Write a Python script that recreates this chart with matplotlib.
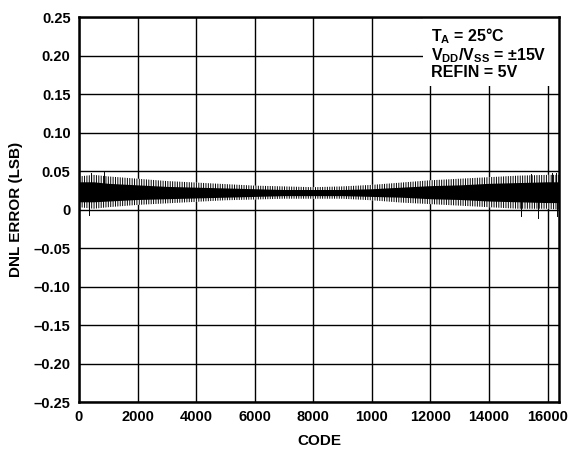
import matplotlib
matplotlib.use("Agg")
import matplotlib.pyplot as plt
from matplotlib.patches import Rectangle

plt.rcParams['font.family'] = ['Liberation Sans', 'DejaVu Sans']
plt.rcParams['font.weight'] = 'bold'
plt.rcParams['mathtext.fontset'] = 'custom'
plt.rcParams['mathtext.rm'] = 'Liberation Sans:bold'
plt.rcParams['mathtext.default'] = 'rm'
plt.rcParams['hatch.linewidth'] = 0.7

# envelope of the DNL trace
codes = [0, 500, 1000, 2000, 3000, 4000, 5000, 6000, 7000, 8000, 9000,
         10000, 11000, 12000, 13000, 14000, 15000, 16000, 16383]
core_hi = [0.036, 0.036, 0.034, 0.032, 0.030, 0.029, 0.028, 0.027, 0.026, 0.026,
           0.026, 0.027, 0.029, 0.031, 0.032, 0.034, 0.035, 0.036, 0.036]
core_lo = [0.010, 0.010, 0.011, 0.013, 0.014, 0.015, 0.016, 0.017, 0.018, 0.018,
           0.018, 0.017, 0.016, 0.014, 0.013, 0.011, 0.010, 0.009, 0.009]
outer_hi = [0.043, 0.045, 0.043, 0.040, 0.037, 0.035, 0.033, 0.031, 0.030, 0.029,
            0.030, 0.032, 0.035, 0.038, 0.040, 0.042, 0.044, 0.045, 0.045]
outer_lo = [0.003, 0.001, 0.003, 0.006, 0.008, 0.010, 0.012, 0.013, 0.014, 0.014,
            0.014, 0.012, 0.009, 0.007, 0.005, 0.003, 0.001, 0.001, 0.000]

# a few single spikes that stick out of the band
spike_codes = [330, 400, 855, 15080, 15420, 15660, 16160, 16300, 16330]
spike_vals = [-0.007, 0.048, 0.049, -0.009, 0.046, -0.011, 0.048, 0.048, -0.009]

xticks = [0, 2000, 4000, 6000, 8000, 10000, 12000, 14000, 16000]
xlabels = ['0', '2000', '4000', '6000', '8000', '1000', '12000', '14000', '16000']
yticks = [0.25, 0.20, 0.15, 0.10, 0.05, 0, -0.05, -0.10, -0.15, -0.20, -0.25]
ylabels = ['0.25', '0.20', '0.15', '0.10', '0.05', '0', '\u20130.05', '\u20130.10',
           '\u20130.15', '\u20130.20', '\u20130.25']

fig = plt.figure(figsize=(5.68, 4.51), dpi=100)
ax = fig.add_axes([0.139, 0.1086, 0.845, 0.8537])

# outer band: streaky texture, inner band: solid black
ax.fill_between(codes, outer_lo, outer_hi, facecolor='white', edgecolor='black',
                hatch='|||||||', lw=0, zorder=2)
ax.fill_between(codes, core_lo, core_hi, color='black', lw=0, zorder=2.1)
for c, v in zip(spike_codes, spike_vals):
    base = 0.03 if v > 0.02 else 0.012
    ax.plot([c, c], [base, v], color='black', lw=0.7, zorder=2.2)

ax.set_xlim(0, 16384)
ax.set_ylim(-0.25, 0.25)
ax.set_xticks(xticks)
ax.set_xticklabels(xlabels)
ax.set_yticks(yticks)
ax.set_yticklabels(ylabels)
ax.tick_params(length=0, labelsize=10.5, pad=6)
ax.grid(True, color='black', lw=1.0)
ax.set_axisbelow(True)
for s in ax.spines.values():
    s.set_linewidth(1.8)

ax.set_xlabel('CODE', fontsize=11, fontweight='bold', labelpad=7)
ax.set_ylabel('DNL ERROR (LSB)', fontsize=11, fontweight='bold', labelpad=8)

# white box behind the conditions text
ax.add_patch(Rectangle((0.717, 0.821), 0.283, 0.179, transform=ax.transAxes,
                       facecolor='white', edgecolor='none', zorder=2.5))
ax.text(0.733, 0.975, 'T$_{A}$ = 25°C\nV$_{DD}$/V$_{SS}$ = ±15V\nREFIN = 5V',
        transform=ax.transAxes, ha='left', va='top', fontsize=11.5,
        fontweight='bold', linespacing=1.0, zorder=3)

fig.savefig('out.png', dpi=100)
